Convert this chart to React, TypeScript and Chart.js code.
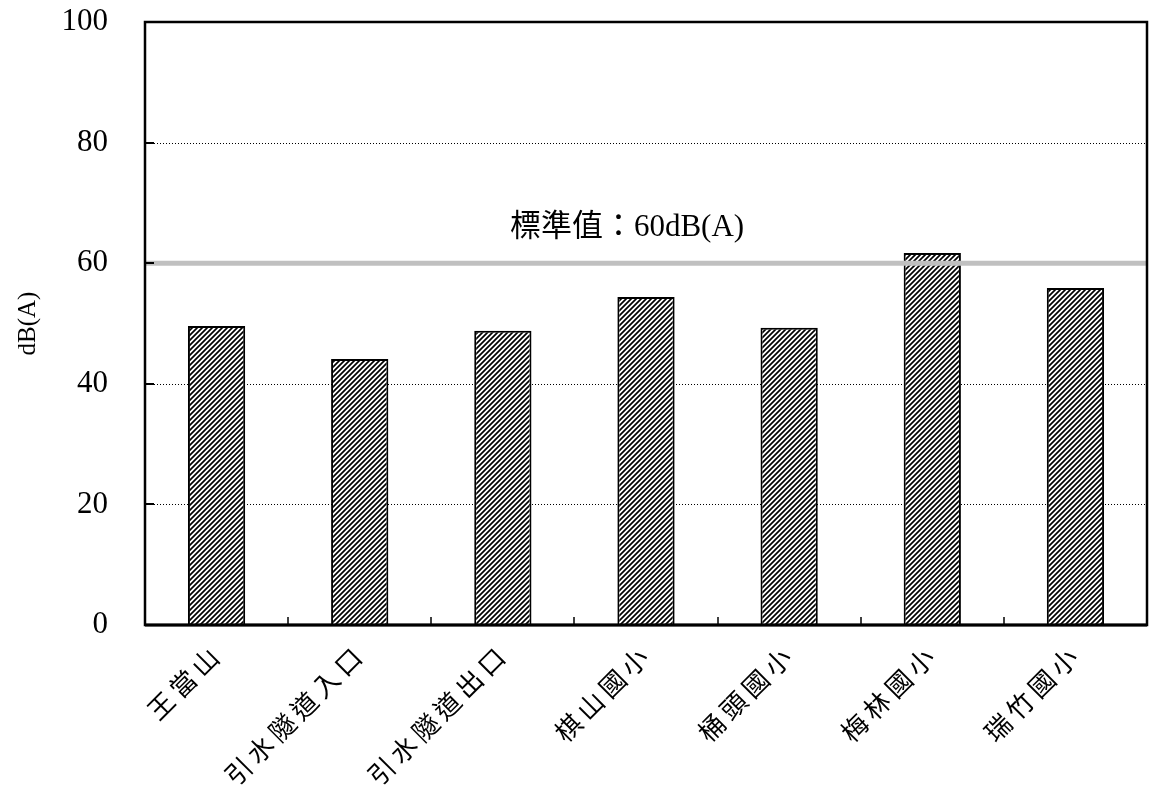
import React, { useEffect, useRef } from "react";
import { Chart, registerables } from "chart.js";

Chart.register(...registerables);

const categories = ["王當山", "引水隧道入口", "引水隧道出口", "棋山國小", "桶頭國小", "梅林國小", "瑞竹國小"];
const noiseValues = [49.6, 44.1, 48.8, 54.4, 49.3, 61.7, 55.9];
const standardValue = 60;
const standardLabel = "標準值：60dB(A)";
const yTitle = "dB(A)";
const yMin = 0;
const yMax = 100;
const yStep = 20;

function makeHatch(): CanvasPattern | string {
  const c = document.createElement("canvas");
  const s = 5;
  c.width = s;
  c.height = s;
  const g = c.getContext("2d");
  if (!g) return "#888";
  g.fillStyle = "#fff";
  g.fillRect(0, 0, s, s);
  g.strokeStyle = "#000";
  g.lineWidth = 1.7;
  g.beginPath();
  g.moveTo(-1, s + 1);
  g.lineTo(s + 1, -1);
  g.moveTo(-2, 2);
  g.lineTo(2, -2);
  g.moveTo(s - 2, s + 2);
  g.lineTo(s + 2, s - 2);
  g.stroke();
  const p = g.createPattern(c, "repeat");
  return p || "#888";
}

const overlayPlugin = {
  id: "overlay",
  beforeDatasetsDraw(chart: any) {
    const { ctx, chartArea } = chart;
    const y = chart.scales.y;
    ctx.save();
    ctx.strokeStyle = "#000";
    ctx.lineWidth = 1;
    ctx.setLineDash([1, 2]);
    for (let v = yMin + yStep; v < yMax; v += yStep) {
      const py = Math.round(y.getPixelForValue(v)) + 0.5;
      ctx.beginPath();
      ctx.moveTo(chartArea.left, py);
      ctx.lineTo(chartArea.right, py);
      ctx.stroke();
    }
    ctx.restore();
  },
  afterDatasetsDraw(chart: any) {
    const { ctx, chartArea } = chart;
    const y = chart.scales.y;
    const x = chart.scales.x;
    const { left, right, top, bottom } = chartArea;
    ctx.save();
    // standard line
    const sy = y.getPixelForValue(standardValue);
    ctx.strokeStyle = "#c0c0c0";
    ctx.lineWidth = 5;
    ctx.beginPath();
    ctx.moveTo(left, sy);
    ctx.lineTo(right, sy);
    ctx.stroke();
    // label
    ctx.fillStyle = "#000";
    ctx.font = "31px 'Liberation Serif', 'Noto Sans CJK TC', serif";
    ctx.textAlign = "center";
    ctx.textBaseline = "middle";
    ctx.fillText(standardLabel, left + ((627 - 145) / 1002) * (right - left), sy - 35);
    // y inner ticks
    ctx.strokeStyle = "#000";
    ctx.lineWidth = 2;
    for (let v = yMin; v <= yMax; v += yStep) {
      const py = Math.round(y.getPixelForValue(v));
      ctx.beginPath();
      ctx.moveTo(left, py);
      ctx.lineTo(left + 9, py);
      ctx.stroke();
    }
    // x inner ticks at category boundaries
    ctx.lineWidth = 1.5;
    const n = categories.length;
    for (let i = 1; i < n; i++) {
      const px = Math.round(left + (i * (right - left)) / n);
      ctx.beginPath();
      ctx.moveTo(px, bottom);
      ctx.lineTo(px, bottom - 8);
      ctx.stroke();
    }
    // frame
    ctx.lineWidth = 2.5;
    ctx.strokeRect(left, top, right - left, bottom - top);
    ctx.lineWidth = 3;
    ctx.beginPath();
    ctx.moveTo(left, bottom);
    ctx.lineTo(right, bottom);
    ctx.stroke();
    // x category labels, rotated 45 degrees
    ctx.fillStyle = "#000";
    ctx.font = "26px 'Noto Sans CJK TC', 'Liberation Serif', serif";
    (ctx as any).letterSpacing = "5px";
    ctx.textAlign = "right";
    ctx.textBaseline = "middle";
    categories.forEach((c, i) => {
      const cx = x.getPixelForValue(i);
      ctx.save();
      ctx.translate(cx + 1, bottom + 24);
      ctx.rotate(-Math.PI / 4);
      ctx.fillText(c, 0, 0);
      ctx.restore();
    });
    ctx.restore();
  },
};

export default function App() {
  const ref = useRef<HTMLCanvasElement | null>(null);
  useEffect(() => {
    document.body.style.margin = "0";
    const canvas = ref.current;
    if (!canvas) return;
    const hatch = makeHatch();
    const chart = new Chart(canvas, {
      type: "bar",
      data: {
        labels: categories,
        datasets: [
          {
            data: noiseValues,
            backgroundColor: hatch as any,
            borderColor: "#000",
            borderWidth: 2,
            categoryPercentage: 1,
            barPercentage: 0.4,
          },
        ],
      },
      options: {
        animation: false,
        responsive: false,
        devicePixelRatio: 1,
        layout: { padding: { top: 22, right: 2, left: 0, bottom: 0 } },
        plugins: { legend: { display: false }, tooltip: { enabled: false } },
        scales: {
          x: {
            grid: { display: false },
            border: { display: false },
            ticks: { display: false, autoSkip: false },
            afterFit(scale: any) {
              scale.height = 167;
              scale.paddingLeft = 0;
              scale.paddingRight = 0;
            },
          },
          y: {
            min: yMin,
            max: yMax,
            grid: { display: false },
            border: { display: false },
            ticks: {
              stepSize: yStep,
              padding: 29,
              color: "#000",
              font: { family: "'Liberation Serif', serif", size: 31 },
            },
            title: {
              display: true,
              text: yTitle,
              color: "#000",
              padding: { top: 13, bottom: 0 },
              font: { family: "'Liberation Serif', serif", size: 25 },
            },
            afterFit(scale: any) {
              scale.width = 145;
              scale.paddingTop = 0;
              scale.paddingBottom = 0;
            },
          },
        },
      },
      plugins: [overlayPlugin],
    });
    return () => chart.destroy();
  }, []);
  return <canvas ref={ref} width={1149} height={792} style={{ display: "block" }} />;
}
